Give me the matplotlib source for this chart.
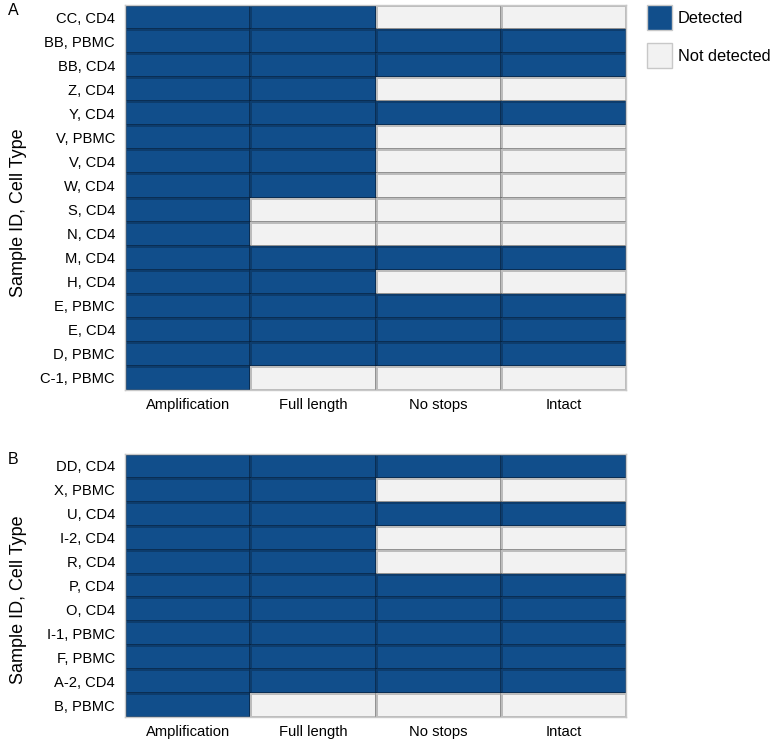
import matplotlib
matplotlib.use("Agg")
import matplotlib.pyplot as plt
import numpy as np
from matplotlib.colors import ListedColormap
from matplotlib.patches import Patch

plt.rcParams['font.family'] = ['Liberation Sans', 'DejaVu Sans']

columns = ["Amplification", "Full length", "No stops", "Intact"]

rows_a = ["CC, CD4", "BB, PBMC", "BB, CD4", "Z, CD4", "Y, CD4", "V, PBMC", "V, CD4",
          "W, CD4", "S, CD4", "N, CD4", "M, CD4", "H, CD4", "E, PBMC", "E, CD4",
          "D, PBMC", "C-1, PBMC"]
amp_a    = [1, 1, 1, 1, 1, 1, 1, 1, 1, 1, 1, 1, 1, 1, 1, 1]
full_a   = [1, 1, 1, 1, 1, 1, 1, 1, 0, 0, 1, 1, 1, 1, 1, 0]
nostop_a = [0, 1, 1, 0, 1, 0, 0, 0, 0, 0, 1, 0, 1, 1, 1, 0]
intact_a = [0, 1, 1, 0, 1, 0, 0, 0, 0, 0, 1, 0, 1, 1, 1, 0]

rows_b = ["DD, CD4", "X, PBMC", "U, CD4", "I-2, CD4", "R, CD4", "P, CD4", "O, CD4",
          "I-1, PBMC", "F, PBMC", "A-2, CD4", "B, PBMC"]
amp_b    = [1, 1, 1, 1, 1, 1, 1, 1, 1, 1, 1]
full_b   = [1, 1, 1, 1, 1, 1, 1, 1, 1, 1, 0]
nostop_b = [1, 0, 1, 0, 0, 1, 1, 1, 1, 1, 0]
intact_b = [1, 0, 1, 0, 0, 1, 1, 1, 1, 1, 0]

legend_labels = ["Detected", "Not detected"]

DARK = "#114e8b"
LIGHT = "#f2f2f2"
cmap = ListedColormap([LIGHT, DARK])

W, H = 770, 739
fig = plt.figure(figsize=(W / 100, H / 100), dpi=100)

def box(l, t, r, b):
    return [l / W, 1 - b / H, (r - l) / W, (b - t) / H]

ax_a = fig.add_axes(box(125, 5, 626, 390))
ax_b = fig.add_axes(box(125, 454, 626, 717))

def draw(ax, rows, cols_data, label, ylab_y):
    data = np.array(cols_data).T  # rows x cols
    ax.pcolormesh(data, cmap=cmap, vmin=0, vmax=1,
                  edgecolors=(0, 0, 0, 0.22), linewidth=0.8)
    ax.set_xlim(0, len(columns))
    ax.set_ylim(len(rows), 0)
    ax.set_xticks(np.arange(len(columns)) + 0.5)
    ax.set_xticklabels(columns, fontsize=10.6)
    ax.set_yticks(np.arange(len(rows)) + 0.5)
    ax.set_yticklabels(rows, fontsize=10.6)
    ax.tick_params(axis="y", length=0, pad=7.2)
    ax.tick_params(axis="x", length=0, pad=6)
    for s in ax.spines.values():
        s.set_color("#c8c8c8")
        s.set_linewidth(1.0)
    ax.set_ylabel("Sample ID, Cell Type", fontsize=13)
    ax.yaxis.set_label_coords(-0.196, ylab_y)
    ax.annotate(label, xy=(0, 1), xycoords="axes fraction",
                xytext=(-117, 2), textcoords="offset pixels",
                fontsize=11.5, ha="left", va="top")

draw(ax_a, rows_a, [amp_a, full_a, nostop_a, intact_a], "A", 0.46)
draw(ax_b, rows_b, [amp_b, full_b, nostop_b, intact_b], "B", 0.445)

handles = [Patch(facecolor=DARK, edgecolor="#c8c8c8"),
           Patch(facecolor=LIGHT, edgecolor="#c8c8c8")]
fig.legend(handles, legend_labels, loc="upper left",
           bbox_to_anchor=(640.5 / W, 1 + 1.5 / H), frameon=False, fontsize=11.8,
           handlelength=1.52, handleheight=1.98, handletextpad=0.36,
           labelspacing=0.77, borderaxespad=0)

fig.savefig("out.png", dpi=100)
